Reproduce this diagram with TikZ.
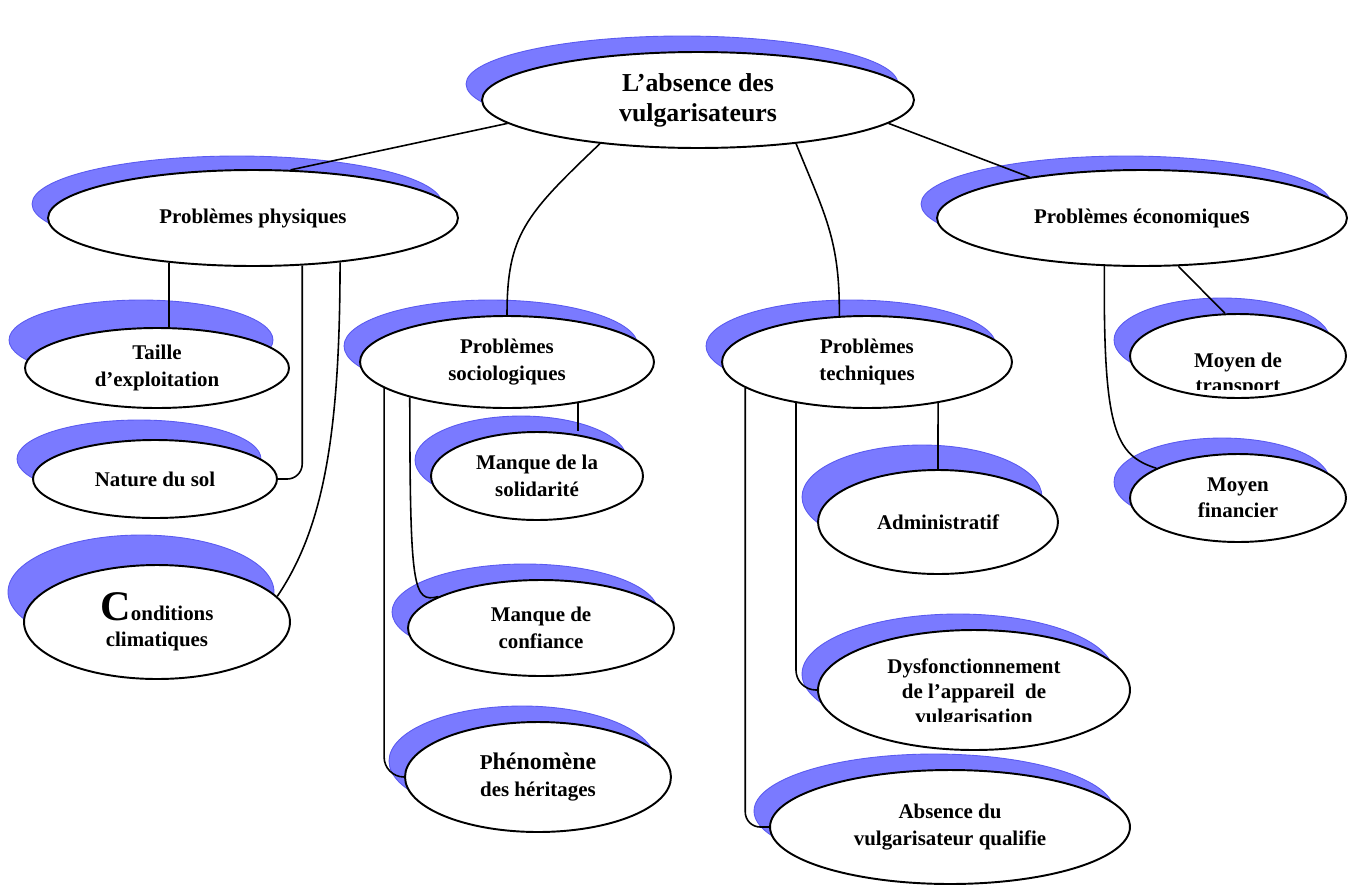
\documentclass[tikz,border=0pt]{standalone}
\usepackage{fontspec}
\setmainfont{Liberation Serif}
\usetikzlibrary{shapes.geometric,shadows}
\definecolor{shblue}{RGB}{122,122,255}
\definecolor{shedge}{RGB}{90,90,240}
\tikzset{
  bub/.style={draw, shape=ellipse, fill=white, line width=1.1pt, inner sep=0pt, align=center,
    font=\bfseries\fontsize{11.9}{15}\selectfont,
    general shadow={fill=shblue, draw=shedge, line width=0.5pt, shadow xshift=-0.32cm, shadow yshift=#1}},
  bub/.default=0.32cm,
  txt/.style={font=\bfseries\fontsize{11.9}{15}\selectfont, anchor=base, inner sep=0pt},
  link/.style={line width=0.9pt}
}
\begin{document}
\begin{tikzpicture}[x=0.02cm, y=-0.02cm]
\useasboundingbox (0,0) rectangle (1348,886);

\node[bub, minimum width=8.64cm, minimum height=1.92cm, font=\bfseries\fontsize{14.7}{17}\selectfont] (top) at (698,100) {L’absence des\\vulgarisateurs};

\node[bub=0.28cm, minimum width=8.2cm, minimum height=1.92cm] (phys) at (253,218) {Problèmes physiques};
\node[bub=0.28cm, minimum width=8.2cm, minimum height=1.92cm] (eco) at (1142,218) {Problèmes économique{\fontsize{14.5}{15}\selectfont s}};

\node[bub=0.56cm, minimum width=5.28cm, minimum height=1.6cm] (tai) at (157,368) {Taille\\d’exploitation};
\node[bub=0.4cm, minimum width=4.88cm, minimum height=1.56cm] (nat) at (155,479) {Nature du sol};
\node[bub=0.6cm, minimum width=5.32cm, minimum height=2.28cm] (cond) at (157,622) {{\fontsize{24}{20}\selectfont C}onditions\\climatiques};

\node[bub, minimum width=5.88cm, minimum height=1.84cm] (soc) at (507,362) {Problèmes\\sociologiques};
\node[bub, minimum width=4.24cm, minimum height=1.76cm] (sol) at (537,476) {Manque de la\\solidarité};
\node[bub, minimum width=5.32cm, minimum height=1.92cm] (conf) at (541,628) {Manque de\\confiance};
\node[bub, minimum width=5.32cm, minimum height=2.2cm] (phe) at (538,777) {{\fontsize{12}{15}\selectfont P}{\fontsize{13.6}{15}\selectfont hénomène}\\des héritages};

\node[bub, minimum width=5.8cm, minimum height=1.84cm] (tec) at (867,362) {Problèmes\\techniques};
\node[bub=0.5cm, minimum width=4.8cm, minimum height=2.08cm] (adm) at (938,522) {Administratif};
\node[bub, minimum width=6.24cm, minimum height=2.4cm] (dys) at (974,690) {};
\node[txt] (dysA) at (974,673) {Dysfonctionnement};
\node[txt] (dysB) at (974,698) {de l’appareil\ \ de};
\begin{scope}
  \clip (820,700) rectangle (1130,721);
  \node[txt] (dysC) at (974,723) {vulgarisation};
\end{scope}
\node[bub, minimum width=7.2cm, minimum height=2.28cm] (abs) at (950,827) {Absence du\\vulgarisateur qualifie};

\node[bub, minimum width=4.32cm, minimum height=1.68cm] (tra) at (1238,356) {};
\node[txt] (traA) at (1238,367) {Moyen de};
\begin{scope}
  \clip (1132,370) rectangle (1346,389);
  \node[txt] (traB) at (1238,392) {transport};
\end{scope}
\node[bub, minimum width=4.32cm, minimum height=1.76cm] (fin) at (1238,498) {Moyen\\financier};

\draw[link] (top.187) -- (phys.52);
\draw[link] (top.204) .. controls (525,215) and (507,235) .. (soc.north);
\draw[link] (top.336) .. controls (825,215) and (840,240) .. (tec.121);
\draw[link] (top.353) -- (eco.160);

\draw[link] (phys.208) -- (phys.208 |- tai.north);
\draw[link, rounded corners=0.3cm] (phys.316) |- (nat.east);
\draw[link] (phys.333) .. controls (340,440) and (322,530) .. (cond.12);

\draw[link] (soc.330) -- (soc.330 |- sol.north);
\draw[link] (soc.200) .. controls (410,590) and (413,603) .. (conf.163);
\draw[link, rounded corners=0.4cm] (soc.192) |- (phe.west);

\draw[link] (tec.330) -- (adm.north);
\draw[link, rounded corners=0.4cm] (tec.210) |- (dys.west);
\draw[link, rounded corners=0.3cm] (tec.192) |- (abs.west);

\draw[link] (eco.307) -- (tra.107);
\draw[link] (eco.232) .. controls (1103,430) and (1115,455) .. (fin.160);
\end{tikzpicture}
\end{document}
